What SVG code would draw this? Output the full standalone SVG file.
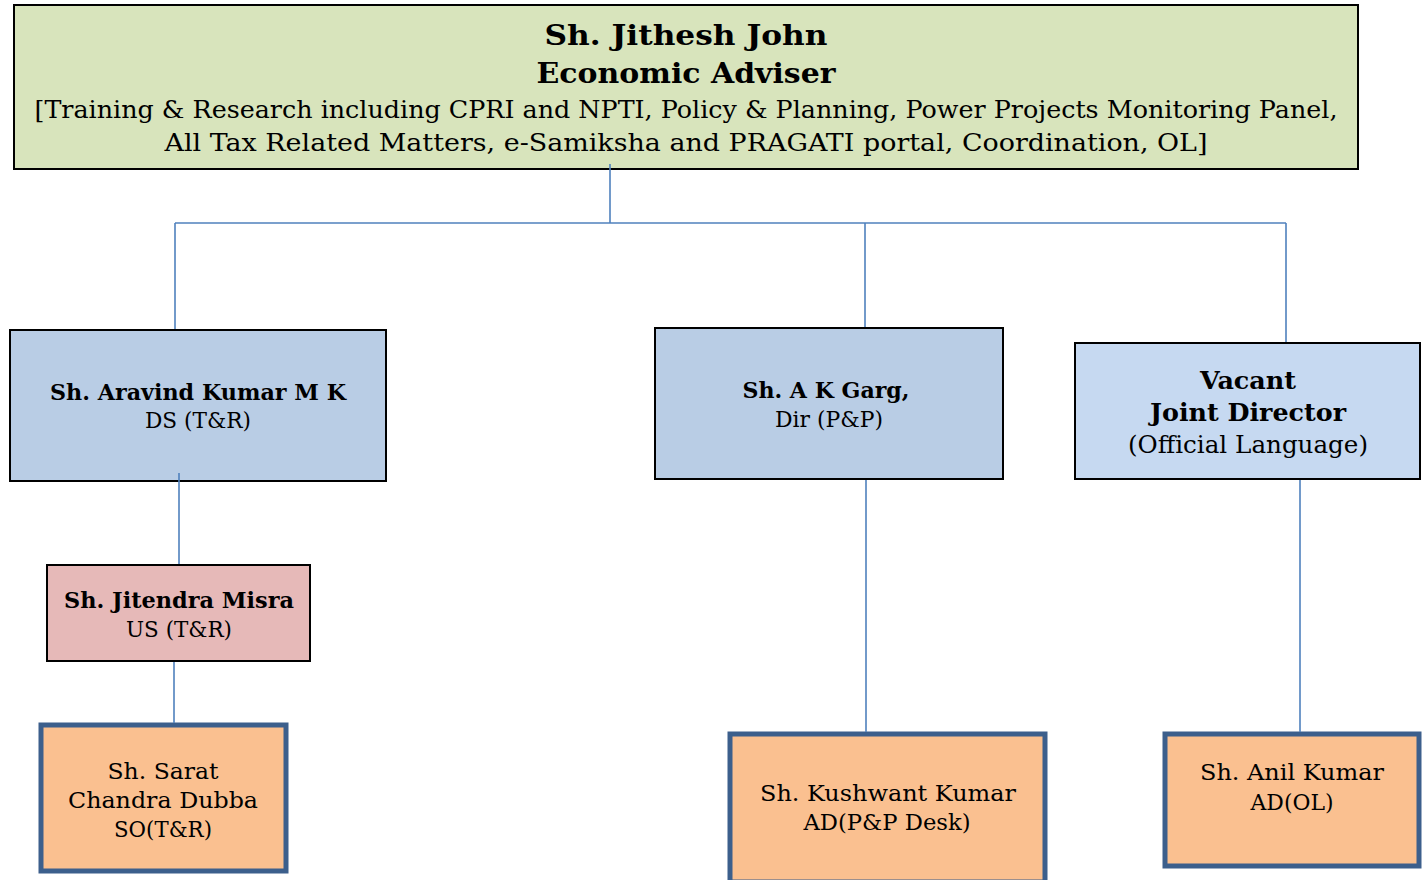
<svg xmlns="http://www.w3.org/2000/svg" width="1423" height="880" viewBox="0 0 1423 880">
<style>
text{font-family:"DejaVu Serif","Liberation Serif",serif;fill:#000;text-anchor:middle}
.b{font-weight:bold}
.box{stroke:#000;stroke-width:2}
.obox{fill:#fac090;stroke:#3c5f8c;stroke-width:5}
.conn line{stroke:#4f81bd;stroke-width:1.6}
</style>
<rect width="1423" height="880" fill="#fff"/>
<g id="n-ea">
<rect class="box" x="14" y="5" width="1344" height="164" fill="#d8e4bc"/>
<text class="b" x="686" y="45" font-size="27" textLength="283" lengthAdjust="spacingAndGlyphs">Sh. Jithesh John</text>
<text class="b" x="686" y="83" font-size="27" textLength="299" lengthAdjust="spacingAndGlyphs">Economic Adviser</text>
<text x="686" y="118" font-size="25" textLength="1303" lengthAdjust="spacingAndGlyphs">[Training &amp; Research including CPRI and NPTI, Policy &amp; Planning, Power Projects Monitoring Panel,</text>
<text x="686" y="151" font-size="25" textLength="1043" lengthAdjust="spacingAndGlyphs">All Tax Related Matters, e-Samiksha and PRAGATI portal, Coordination, OL]</text>
</g>
<g id="n-aravind">
<rect class="box" x="10" y="330" width="376" height="151" fill="#b9cde5"/>
<text class="b" x="198" y="400" font-size="22" textLength="296" lengthAdjust="spacingAndGlyphs">Sh. Aravind Kumar M K</text>
<text x="198" y="428" font-size="22" textLength="106" lengthAdjust="spacingAndGlyphs">DS (T&amp;R)</text>
</g>
<g id="n-garg">
<rect class="box" x="655" y="328" width="348" height="151" fill="#b9cde5"/>
<text class="b" x="826" y="398" font-size="22" textLength="167" lengthAdjust="spacingAndGlyphs">Sh. A K Garg,</text>
<text x="829" y="427" font-size="22" textLength="108" lengthAdjust="spacingAndGlyphs">Dir (P&amp;P)</text>
</g>
<g id="n-vacant">
<rect class="box" x="1075" y="343" width="345" height="136" fill="#c6d9f1"/>
<text class="b" x="1248" y="389" font-size="24" textLength="96" lengthAdjust="spacingAndGlyphs">Vacant</text>
<text class="b" x="1248" y="421" font-size="24" textLength="196" lengthAdjust="spacingAndGlyphs">Joint Director</text>
<text x="1248" y="453" font-size="24" textLength="240" lengthAdjust="spacingAndGlyphs">(Official Language)</text>
</g>
<g id="n-misra">
<rect class="box" x="47" y="565" width="263" height="96" fill="#e6b9b8"/>
<text class="b" x="179" y="608" font-size="22" textLength="230" lengthAdjust="spacingAndGlyphs">Sh. Jitendra Misra</text>
<text x="179" y="637" font-size="22" textLength="106" lengthAdjust="spacingAndGlyphs">US (T&amp;R)</text>
</g>
<g id="n-sarat">
<rect class="obox" x="41" y="725" width="245" height="146"/>
<text x="163" y="779" font-size="23" textLength="111" lengthAdjust="spacingAndGlyphs">Sh. Sarat</text>
<text x="163" y="808" font-size="23" textLength="190" lengthAdjust="spacingAndGlyphs">Chandra Dubba</text>
<text x="163" y="837" font-size="23" textLength="98" lengthAdjust="spacingAndGlyphs">SO(T&amp;R)</text>
</g>
<g id="n-kushwant">
<rect class="obox" x="730" y="734" width="315" height="148"/>
<text x="888" y="801" font-size="23" textLength="256" lengthAdjust="spacingAndGlyphs">Sh. Kushwant Kumar</text>
<text x="887" y="830" font-size="23" textLength="167" lengthAdjust="spacingAndGlyphs">AD(P&amp;P Desk)</text>
</g>
<g id="n-anil">
<rect class="obox" x="1165" y="734" width="254" height="132"/>
<text x="1292" y="780" font-size="23" textLength="184" lengthAdjust="spacingAndGlyphs">Sh. Anil Kumar</text>
<text x="1292" y="810" font-size="23" textLength="83" lengthAdjust="spacingAndGlyphs">AD(OL)</text>
</g>
<g class="conn" id="connectors">
<line x1="610" y1="164" x2="610" y2="223"/>
<line x1="175" y1="223" x2="1286" y2="223"/>
<line x1="175" y1="223" x2="175" y2="329"/>
<line x1="865" y1="223" x2="865" y2="327"/>
<line x1="1286" y1="223" x2="1286" y2="342"/>
<line x1="179" y1="473" x2="179" y2="564"/>
<line x1="174" y1="662" x2="174" y2="723"/>
<line x1="866" y1="480" x2="866" y2="732"/>
<line x1="1300" y1="480" x2="1300" y2="732"/>
</g>
</svg>
